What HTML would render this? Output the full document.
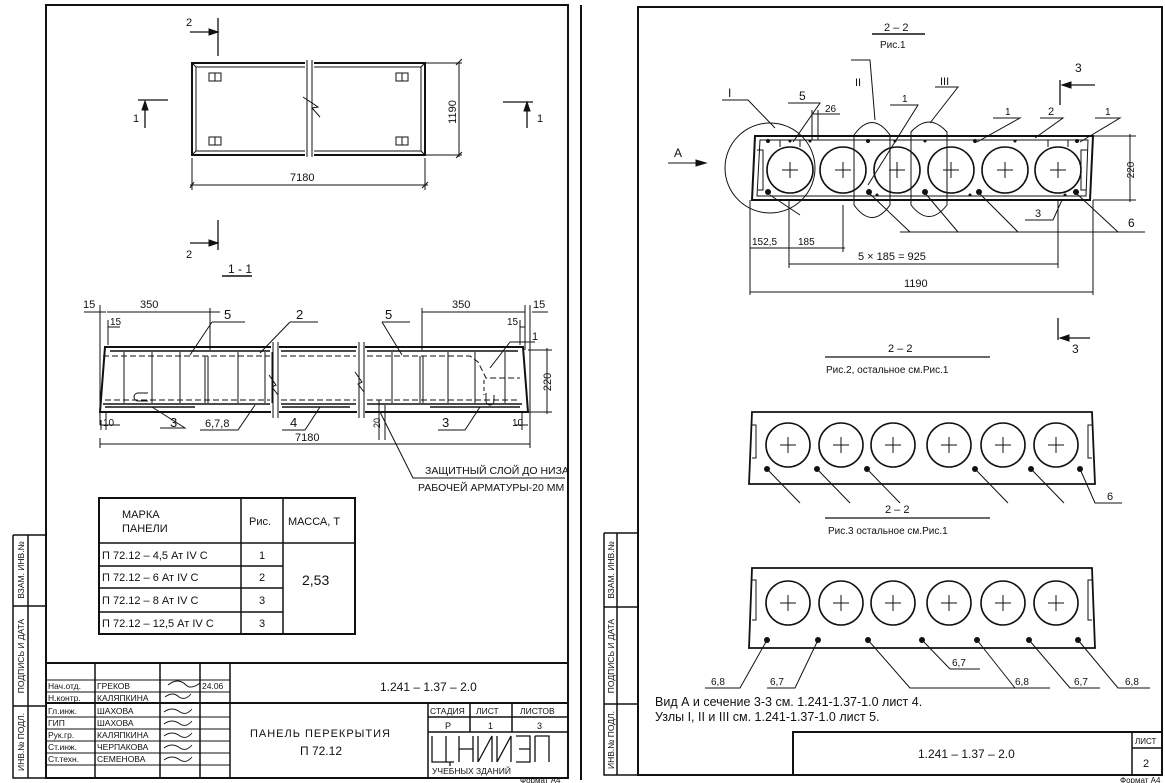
<!DOCTYPE html>
<html><head><meta charset="utf-8"><style>
html,body{margin:0;padding:0;background:#fff}
svg{display:block}
text{font-family:"Liberation Sans","DejaVu Sans",sans-serif;fill:#111}
</style></head><body>
<svg width="1165" height="783" viewBox="0 0 1165 783" xmlns="http://www.w3.org/2000/svg">
<rect width="1165" height="783" fill="#fff"/>
<g stroke="#111" fill="none" stroke-width="1">
<rect x="46" y="5" width="522" height="773" stroke-width="2"/>
<path d="M13 535 H46 M13 535 V778 H46 M28 535 V778 M13 606 H46 M13 706 H46" stroke-width="1.5"/>
<rect x="192" y="63" width="233" height="92" stroke-width="2"/>
<rect x="196" y="67" width="225" height="84"/>
<path d="M192 63 L196 67 M425 63 L421 67 M192 155 L196 151 M425 155 L421 151"/>
<rect x="305" y="58" width="9" height="102" fill="#fff" stroke="none"/>
<path d="M307 60 V157 M312 60 V157 M303 97 L318 107 L312 108 L320 117" />
<rect x="209" y="73" width="12" height="8"/><path d="M215 73 V81"/>
<rect x="396" y="73" width="12" height="8"/><path d="M402 73 V81"/>
<rect x="209" y="137" width="12" height="8"/><path d="M215 137 V145"/>
<rect x="396" y="137" width="12" height="8"/><path d="M402 137 V145"/>
<path d="M192 158 V190 M425 158 V190 M190 185 H428 M425 63 H462 M425 155 H462 M459 62 V157"/>
<path d="M190 188 L194 182 M422 188 L428 182 M456 65 L462 59 M456 158 L462 152"/>
<path d="M218 18 V56 M190 32 H216 M218 220 V250 M190 243 H216" stroke-width="1.3"/>
<path d="M218 32 L209 29 V35 Z M218 243 L209 240 V246 Z" fill="#111"/>
<path d="M138 100 H168 M145 102 V128 M503 102 H533 M527 104 V128" stroke-width="1.3"/>
<path d="M145 101 L142 110 H148 Z M527 102 L524 111 H530 Z" fill="#111"/>
<path d="M222 276 H252" stroke-width="1.5"/>
<path d="M105 347 H523 L528 412 H100 Z" stroke-width="2"/>
<rect x="271" y="340" width="8" height="80" fill="#fff" stroke="none"/>
<rect x="357" y="340" width="8" height="80" fill="#fff" stroke="none"/>
<path d="M273 342 V418 M278 342 V418 M359 342 V418 M364 342 V418"/>
<path d="M269 375 L276 385 L272 387 L278 395 M355 372 L362 382 L358 384 L364 392"/>
<path d="M110 351 H270 M281 351 H356 M367 351 H518" stroke-width="1.5"/>
<path d="M103 356 H270 M281 356 H356 M367 356 H470 L478 362 L486 378 H520" stroke-dasharray="6 3"/>
<path d="M484 380 V395" stroke-dasharray="4 3"/>
<path d="M105 400 H270 M281 400 H356 M367 400 H520" stroke-dasharray="6 3"/>
<path d="M103 404 H270 M281 404 H356 M367 404 H522 M105 407 H195 M282 407 H350 M430 407 H520" stroke-width="1.5"/>
<path d="M124 352 V403 M152 352 V403 M180 352 V403 M205 356 V403 M208 356 V403 M238 352 V403 M265 352 V403 M272 352 V403 M392 352 V403 M420 356 V403 M423 356 V403 M448 352 V403 M475 352 V403 M505 352 V403"/>
<path d="M148 393 H138 A4 4 0 0 0 138 401 H148 M486 393 V401 A4 4 0 0 0 494 401 V395"/>
<path d="M100 305 V412 M100 305 V425 M107 312 H220 M210 308 V350 M422 308 V350 M422 312 H525 M525 305 V350 M530 305 V440 M84 312 H106 M532 312 H548 M108 327 H120 M108 320 V345 M520 327 H525 M520 320 V345"/>
<path d="M528 350 H552 M528 412 H552 M547 348 V414 M101 420 V430 M106 412 V430 M100 425 H120 M515 425 H528 M522 412 V430 M100 444 H530 M100 438 V448 M530 438 V448"/>
<path d="M379 400 V440 M385 405 V440"/>
<path d="M212 322 H245 M212 322 L190 355 M290 322 H318 M290 322 L260 353 M382 322 H410 M382 322 L402 355 M510 342 H535 M510 342 L490 368"/>
<path d="M160 428 H185 L152 407 M200 430 H238 L255 405 M282 430 H305 L320 407 M438 430 H465 L480 407"/>
<path d="M380 412 L413 478 H565" />
<rect x="99" y="498" width="256" height="136" stroke-width="2"/>
<path d="M241 498 V634 M283 498 V634 M99 543 H355 M99 566 H283 M99 588 H283 M99 612 H283" stroke-width="1.5"/>
<path d="M46 663 H568 M230 703 H568 M46 703 H230" stroke-width="2"/>
<path d="M95 663 V778 M160 663 V778 M200 663 V778 M230 663 V778" stroke-width="1.5"/>
<path d="M46 680 H230 M46 692 H230 M46 717 H230 M46 729 H230 M46 741 H230 M46 753 H230 M46 765 H230" stroke-width="1"/>
<path d="M428 703 V778 M428 717 H568 M428 732 H568 M470 703 V732 M512 703 V732" stroke-width="1.5"/>
<path d="M168 685 q10 -8 18 0 q5 5 14 -2 M165 697 q8 -6 14 0 q6 4 12 -3 M164 712 q8 -6 16 0 q6 4 12 -3 M164 724 q8 -6 16 0 q6 4 12 -3 M164 736 q8 -6 16 0 q6 4 12 -3 M164 748 q8 -6 16 0 q6 4 12 -3 M164 760 q8 -6 16 0 q6 4 12 -3" stroke-width="0.9"/>
<path d="M432 736 V762 H454 M450 762 V766 M432 762 V762 M446 736 V762 M459 736 V762 M459 749 H473 M473 736 V762 M478 762 V736 M478 762 L492 736 V762 M497 762 V736 M497 762 L511 736 V762 M516 736 H530 V762 H516 M519 749 H530 M535 736 V762 M535 736 H549 V762" stroke-width="1.3"/>

<path d="M581 5 V780" stroke-width="2"/>
<rect x="638" y="7" width="524" height="768" stroke-width="2"/>
<path d="M604 533 H638 M604 533 V775 H638 M617 533 V775 M604 607 H638 M604 704 H638" stroke-width="1.5"/>
<path d="M872 34 H925" stroke-width="1.5"/>
<path d="M668 163 H703"/><path d="M706 163 L696 160 V166 Z" fill="#111"/>
<path d="M1060 80 V105 M1062 85 H1095" stroke-width="1.3"/><path d="M1062 85 L1071 82 V88 Z" fill="#111"/>
<path d="M1058 318 V340 M1060 338 H1090" stroke-width="1.3"/><path d="M1060 338 L1069 335 V341 Z" fill="#111"/>
<path d="M755 136 H1093 L1090 200 H752 Z" stroke-width="2"/>
<path d="M760 140 H1088 L1086 196 H757 Z"/>
<path d="M757 150 H763 V190 H758 M1087 150 H1081 V190 H1086"/>
<g stroke-width="1.6">
<circle cx="790" cy="170" r="23"/><circle cx="843" cy="170" r="23"/><circle cx="897" cy="170" r="23"/><circle cx="951" cy="170" r="23"/><circle cx="1005" cy="170" r="23"/><circle cx="1058" cy="170" r="23"/>
</g>
<path d="M782 170 H798 M790 162 V178 M835 170 H851 M843 162 V178 M889 170 H905 M897 162 V178 M943 170 H959 M951 162 V178 M997 170 H1013 M1005 162 V178 M1050 170 H1066 M1058 162 V178"/>
<path d="M780 147 V140 M800 147 V140 M1048 147 V140 M1068 147 V140"/>
<circle cx="770" cy="168" r="45"/>
<path d="M854 135 Q872 110 890 135 V205 Q872 230 854 205 Z M911 132 Q929 112 947 132 V205 Q929 228 911 205 Z"/>
<g fill="#111" stroke="none">
<circle cx="768" cy="192" r="3"/><circle cx="869" cy="192" r="3"/><circle cx="925" cy="192" r="3"/><circle cx="979" cy="192" r="3"/><circle cx="1076" cy="192" r="3"/>
<circle cx="768" cy="141" r="2"/><circle cx="790" cy="141" r="1.5"/><circle cx="810" cy="141" r="1.5"/><circle cx="868" cy="141" r="2"/><circle cx="895" cy="141" r="1.5"/><circle cx="925" cy="141" r="1.5"/><circle cx="975" cy="141" r="2"/><circle cx="1015" cy="141" r="1.5"/><circle cx="1077" cy="141" r="2"/>
<circle cx="877" cy="195" r="1.5"/><circle cx="970" cy="195" r="1.5"/><circle cx="1065" cy="195" r="1.5"/>
</g>
<path d="M722 100 H748 L775 128 M788 103 H820 L793 142 M851 60 H870 L875 120 M890 105 H918 L868 185 M935 87 H958 L930 123 M993 118 H1020 L977 142 M1040 118 H1063 L1035 138 M1095 118 H1120 L1080 142 M1025 220 H1053 L1062 200"/>
<path d="M869 193 L910 232 M925 193 L958 232 M979 193 L1018 232 M1076 193 L1118 232 M900 232 H1145 M770 195 L800 215"/>
<path d="M812 114 H840 M812 110 V140 M818 110 V140"/>
<path d="M750 200 V295 M789 200 V268 M843 205 V252 M1058 200 V268 M1093 200 V295 M750 248 H845 M789 264 H1058 M750 292 H1093 M1093 136 H1136 M1093 200 H1136 M1130 134 V202"/>
<path d="M825 357 H990" stroke-width="1.3"/>
<path d="M752 412 H1092 L1095 484 H749 Z" stroke-width="1.8"/>
<path d="M752 425 H756 V458 H752 M1092 425 H1088 V458 H1092"/>
<g stroke-width="1.6">
<circle cx="788" cy="445" r="22"/><circle cx="841" cy="445" r="22"/><circle cx="893" cy="445" r="22"/><circle cx="949" cy="445" r="22"/><circle cx="1003" cy="445" r="22"/><circle cx="1056" cy="445" r="22"/>
</g>
<path d="M780 445 H796 M788 437 V453 M833 445 H849 M841 437 V453 M885 445 H901 M893 437 V453 M941 445 H957 M949 437 V453 M995 445 H1011 M1003 437 V453 M1048 445 H1064 M1056 437 V453"/>
<g fill="#111" stroke="none"><circle cx="767" cy="469" r="3"/><circle cx="817" cy="469" r="3"/><circle cx="867" cy="469" r="3"/><circle cx="975" cy="469" r="3"/><circle cx="1031" cy="469" r="3"/><circle cx="1080" cy="469" r="3"/></g>
<path d="M767 469 L800 503 M817 469 L850 503 M867 469 L900 503 M975 469 L1008 503 M1031 469 L1064 503 M1080 469 L1095 503 H1122"/>
<path d="M825 518 H990" stroke-width="1.3"/>
<path d="M752 568 H1092 L1095 648 H749 Z" stroke-width="1.8"/>
<path d="M752 580 H756 V620 H752 M1092 580 H1088 V620 H1092"/>
<g stroke-width="1.6">
<circle cx="788" cy="603" r="22"/><circle cx="841" cy="603" r="22"/><circle cx="893" cy="603" r="22"/><circle cx="949" cy="603" r="22"/><circle cx="1003" cy="603" r="22"/><circle cx="1056" cy="603" r="22"/>
</g>
<path d="M780 603 H796 M788 595 V611 M833 603 H849 M841 595 V611 M885 603 H901 M893 595 V611 M941 603 H957 M949 595 V611 M995 603 H1011 M1003 595 V611 M1048 603 H1064 M1056 595 V611"/>
<g fill="#111" stroke="none"><circle cx="767" cy="640" r="3"/><circle cx="818" cy="640" r="3"/><circle cx="868" cy="640" r="3"/><circle cx="922" cy="640" r="3"/><circle cx="977" cy="640" r="3"/><circle cx="1029" cy="640" r="3"/><circle cx="1078" cy="640" r="3"/></g>
<path d="M705 688 H740 L767 640 M767 688 H795 L818 640 M868 640 L910 688 H1050 M922 640 L950 669 H980 M977 640 L1015 688 M1029 640 L1070 688 H1100 M1078 640 L1118 688 H1150"/>
<rect x="793" y="732" width="369" height="43" stroke-width="2"/>
<path d="M1132 732 V775 M1132 748 H1162" stroke-width="1.5"/>
</g>

<g font-size="11">
<text x="186" y="26">2</text><text x="186" y="258">2</text>
<text x="133" y="122">1</text><text x="537" y="122">1</text>
<text x="290" y="181">7180</text>
<text transform="translate(456,112) rotate(-90)" text-anchor="middle">1190</text>
<text x="228" y="273" font-size="12">1 - 1</text>
<text x="83" y="308">15</text><text x="140" y="308">350</text>
<text x="110" y="325" font-size="10">15</text>
<text x="452" y="308">350</text><text x="533" y="308">15</text>
<text x="507" y="325" font-size="10">15</text>
<text x="224" y="319" font-size="13">5</text><text x="296" y="319" font-size="13">2</text>
<text x="385" y="319" font-size="13">5</text><text x="532" y="340" font-size="11">1</text>
<text transform="translate(551,382) rotate(-90)" text-anchor="middle">220</text>
<text x="103" y="426" font-size="10">10</text><text x="512" y="426" font-size="10">10</text>
<text transform="translate(380,428) rotate(-90)" font-size="9">20</text>
<text x="170" y="427" font-size="13">3</text><text x="205" y="427">6,7,8</text>
<text x="290" y="427" font-size="13">4</text><text x="442" y="427" font-size="13">3</text>
<text x="295" y="441">7180</text>
<text x="425" y="474" font-size="10.5">ЗАЩИТНЫЙ СЛОЙ ДО НИЗА</text>
<text x="418" y="491" font-size="10.5">РАБОЧЕЙ АРМАТУРЫ-20 ММ</text>
<text x="122" y="518">МАРКА</text><text x="122" y="532">ПАНЕЛИ</text>
<text x="249" y="525">Рис.</text><text x="288" y="525">МАССА, Т</text>
<text x="102" y="559">П 72.12 – 4,5 Ат IV С</text>
<text x="102" y="581">П 72.12 – 6 Ат IV С</text>
<text x="102" y="604">П 72.12 – 8 Ат IV С</text>
<text x="102" y="627">П 72.12 – 12,5 Ат IV С</text>
<text x="259" y="559">1</text><text x="259" y="581">2</text><text x="259" y="604">3</text><text x="259" y="627">3</text>
<text x="302" y="585" font-size="14">2,53</text>
<text x="380" y="691" font-size="12">1.241 – 1.37 – 2.0</text>
<text x="250" y="737" font-size="11" letter-spacing="1">ПАНЕЛЬ ПЕРЕКРЫТИЯ</text>
<text x="300" y="755" font-size="12">П 72.12</text>
<text x="430" y="714" font-size="8.5">СТАДИЯ</text><text x="476" y="714" font-size="8.5">ЛИСТ</text><text x="520" y="714" font-size="8.5">ЛИСТОВ</text>
<text x="445" y="729" font-size="9">Р</text><text x="488" y="729" font-size="9">1</text><text x="537" y="729" font-size="9">3</text>
<text x="432" y="774" font-size="8.5">УЧЕБНЫХ ЗДАНИЙ</text>
</g>
<g font-size="8.5">
<text x="48" y="689">Нач.отд.</text><text x="97" y="689">ГРЕКОВ</text><text x="202" y="689">24.06</text>
<text x="48" y="701">Н.контр.</text><text x="97" y="701">КАЛЯПКИНА</text>
<text x="48" y="714">Гл.инж.</text><text x="97" y="714">ШАХОВА</text>
<text x="48" y="726">ГИП</text><text x="97" y="726">ШАХОВА</text>
<text x="48" y="738">Рук.гр.</text><text x="97" y="738">КАЛЯПКИНА</text>
<text x="48" y="750">Ст.инж.</text><text x="97" y="750">ЧЕРПАКОВА</text>
<text x="48" y="762">Ст.техн.</text><text x="97" y="762">СЕМЕНОВА</text>
<text transform="translate(24,570) rotate(-90)" text-anchor="middle">ВЗАМ. ИНВ.№</text>
<text transform="translate(24,656) rotate(-90)" text-anchor="middle">ПОДПИСЬ И ДАТА</text>
<text transform="translate(24,742) rotate(-90)" text-anchor="middle">ИНВ.№ ПОДЛ.</text>
<text transform="translate(614,570) rotate(-90)" text-anchor="middle">ВЗАМ. ИНВ.№</text>
<text transform="translate(614,656) rotate(-90)" text-anchor="middle">ПОДПИСЬ И ДАТА</text>
<text transform="translate(614,740) rotate(-90)" text-anchor="middle">ИНВ.№ ПОДЛ.</text>
</g>
<g font-size="11">
<text x="884" y="31">2 – 2</text><text x="880" y="48" font-size="10">Рис.1</text>
<text x="674" y="157" font-size="12">A</text>
<text x="1075" y="72" font-size="12">3</text><text x="1072" y="353" font-size="12">3</text>
<text x="728" y="97" font-size="12">I</text><text x="799" y="100" font-size="12">5</text>
<text x="825" y="112" font-size="10">26</text>
<text x="855" y="86" font-size="11">II</text><text x="902" y="102" font-size="10">1</text>
<text x="940" y="85" font-size="11">III</text><text x="1005" y="115" font-size="10">1</text>
<text x="1048" y="115" font-size="11">2</text><text x="1105" y="115" font-size="10">1</text>
<text x="1035" y="217" font-size="11">3</text><text x="1128" y="227" font-size="12">6</text>
<text x="752" y="245" font-size="10">152,5</text><text x="798" y="245" font-size="10">185</text>
<text x="858" y="260">5 × 185 = 925</text>
<text x="904" y="287">1190</text>
<text transform="translate(1134,170) rotate(-90)" text-anchor="middle" font-size="10">220</text>
<text x="888" y="352">2 – 2</text>
<text x="826" y="373" font-size="10">Рис.2, остальное см.Рис.1</text>
<text x="1107" y="500" font-size="11">6</text>
<text x="885" y="513">2 – 2</text>
<text x="828" y="534" font-size="10">Рис.3 остальное см.Рис.1</text>
<text x="711" y="685" font-size="10">6,8</text><text x="770" y="685" font-size="10">6,7</text>
<text x="952" y="666" font-size="10">6,7</text><text x="1015" y="685" font-size="10">6,8</text>
<text x="1074" y="685" font-size="10">6,7</text><text x="1125" y="685" font-size="10">6,8</text>
<text x="655" y="706" font-size="12.5">Вид А и сечение 3-3 см. 1.241-1.37-1.0 лист 4.</text>
<text x="655" y="721" font-size="12.5">Узлы I, II и III см. 1.241-1.37-1.0 лист 5.</text>
<text x="918" y="758" font-size="12">1.241 – 1.37 – 2.0</text>
<text x="1135" y="744" font-size="8">ЛИСТ</text><text x="1143" y="767" font-size="11">2</text>
<text x="520" y="783" font-size="8">Формат А4</text>
<text x="1120" y="783" font-size="8">Формат А4</text>
</g>
</svg>
</body></html>
